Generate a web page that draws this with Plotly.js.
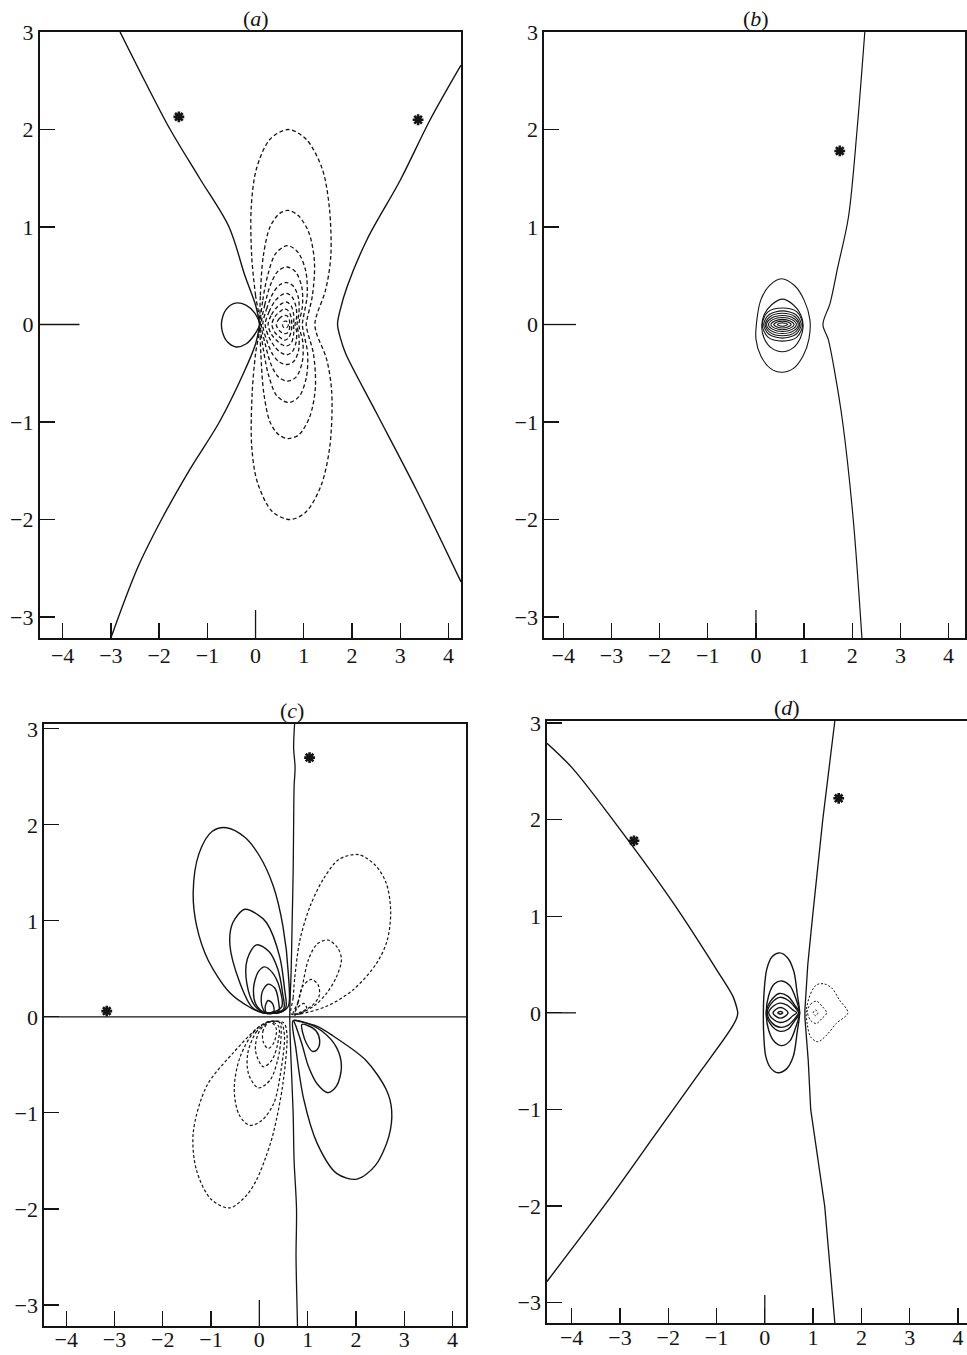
<!DOCTYPE html>
<html>
<head>
<meta charset="utf-8">
<script src="https://cdn.plot.ly/plotly-3.0.1.min.js"></script>
<style>
  html, body { margin: 0; padding: 0; overflow: hidden; background: #fff; }
</style>
</head>
<body>
<div id="fig" style="width:980px;height:1355px"></div>
<script>
// ---------- tick values ----------
const xTickVals = [-4, -3, -2, -1, 0, 1, 2, 3, 4];
const yTickVals = [-3, -2, -1, 0, 1, 2, 3];

// ---------- panel (a) ----------
const aUpperLeft = [[-2.81,3.0],[-2.3,2.5],[-1.77,2.0],[-1.16,1.5],[-0.55,1.0],[-0.22,0.5],[0.0,0.2],[0.08,0.02]];
const aLowerLeft = [[0.08,-0.02],[0.0,-0.2],[-0.25,-0.5],[-0.75,-1.0],[-1.38,-1.5],[-1.95,-2.0],[-2.45,-2.5],[-3.0,-3.215]];
const aRight = [[4.26,2.66],[3.62,2.1],[3.0,1.48],[2.31,0.87],[1.9,0.39],[1.75,0.14],[1.70,0],[1.76,-0.14],[1.87,-0.3],[2.51,-0.91],[3.34,-1.70],[4.26,-2.64]];
const aSmallLoop = [[0.08,0],[-0.02,0.12],[-0.2,0.2],[-0.42,0.22],[-0.6,0.16],[-0.7,0.04],[-0.69,-0.07],[-0.58,-0.18],[-0.4,-0.23],[-0.2,-0.2],[-0.03,-0.11],[0.08,0]];
const aDash1 = [[0.09,0],[0.0,0.3],[-0.08,0.7],[-0.09,1.2],[0.02,1.6],[0.3,1.9],[0.68,2.0],[1.05,1.9],[1.38,1.6],[1.53,1.2],[1.56,0.7],[1.45,0.35],[1.27,0.1],[1.23,0],[1.27,-0.1],[1.47,-0.35],[1.58,-0.7],[1.54,-1.25],[1.36,-1.65],[1.05,-1.92],[0.72,-2.0],[0.35,-1.92],[0.04,-1.62],[-0.08,-1.25],[-0.07,-0.7],[0.0,-0.3],[0.09,0]];
const aDash2 = [[0.09,0],[0.1,0.3],[0.16,0.7],[0.3,1.0],[0.5,1.14],[0.68,1.17],[0.88,1.12],[1.1,0.95],[1.22,0.65],[1.18,0.3],[1.08,0.08],[1.05,0],[1.08,-0.08],[1.2,-0.3],[1.24,-0.65],[1.12,-0.95],[0.9,-1.13],[0.68,-1.17],[0.48,-1.13],[0.3,-1.0],[0.17,-0.7],[0.11,-0.3],[0.09,0]];
const aDash3 = [[0.1,0],[0.15,0.25],[0.26,0.52],[0.42,0.73],[0.66,0.81],[0.88,0.74],[1.04,0.55],[1.07,0.3],[0.99,0.07],[0.97,0],[0.99,-0.07],[1.08,-0.3],[1.05,-0.55],[0.9,-0.74],[0.68,-0.8],[0.44,-0.73],[0.27,-0.52],[0.16,-0.25],[0.1,0]];
const aDash4 = [[0.12,0],[0.19,0.2],[0.32,0.42],[0.47,0.55],[0.65,0.59],[0.83,0.54],[0.96,0.38],[0.97,0.18],[0.91,0.04],[0.9,0],[0.91,-0.04],[0.98,-0.18],[0.97,-0.38],[0.84,-0.54],[0.66,-0.58],[0.48,-0.54],[0.33,-0.42],[0.2,-0.2],[0.12,0]];
const aDash5 = [[0.15,0],[0.23,0.16],[0.36,0.32],[0.51,0.41],[0.65,0.43],[0.79,0.39],[0.89,0.27],[0.9,0.12],[0.86,0],[0.9,-0.12],[0.89,-0.27],[0.79,-0.38],[0.65,-0.41],[0.51,-0.39],[0.36,-0.31],[0.23,-0.16],[0.15,0]];
const aDash6 = [[0.2,0],[0.28,0.13],[0.4,0.24],[0.53,0.3],[0.65,0.32],[0.76,0.28],[0.84,0.18],[0.85,0.07],[0.82,0],[0.85,-0.07],[0.84,-0.18],[0.76,-0.28],[0.65,-0.31],[0.53,-0.29],[0.4,-0.23],[0.28,-0.13],[0.2,0]];
const aDash7 = [[0.26,0],[0.33,0.1],[0.45,0.18],[0.56,0.22],[0.65,0.23],[0.74,0.19],[0.79,0.1],[0.79,0],[0.79,-0.1],[0.74,-0.19],[0.65,-0.22],[0.56,-0.21],[0.45,-0.17],[0.33,-0.1],[0.26,0]];
const aDash8 = [[0.34,0],[0.4,0.08],[0.5,0.13],[0.6,0.16],[0.68,0.14],[0.74,0.07],[0.75,0],[0.74,-0.07],[0.68,-0.14],[0.6,-0.16],[0.5,-0.13],[0.4,-0.08],[0.34,0]];
const aDash9 = [[0.43,0],[0.49,0.06],[0.57,0.09],[0.65,0.09],[0.7,0.05],[0.71,0],[0.7,-0.05],[0.65,-0.09],[0.57,-0.09],[0.49,-0.06],[0.43,0]];
const aDash10 = [[0.56,0],[0.58,0.03],[0.63,0.035],[0.67,0.02],[0.68,0],[0.67,-0.02],[0.63,-0.035],[0.58,-0.03],[0.56,0]];
const aStarsX = [-1.59, 3.37];
const aStarsY = [2.13, 2.10];

// ---------- panel (b) ----------
const bLine = [[2.26,3.0],[2.1,2.0],[1.92,1.1],[1.7,0.59],[1.54,0.22],[1.39,0.0],[1.5,-0.15],[1.64,-0.5],[1.8,-1.0],[2.02,-2.0],[2.2,-3.215]];
const bLoop1 = [[0.53,0.47],[0.8,0.4],[1.0,0.25],[1.12,0.05],[1.1,-0.15],[0.98,-0.32],[0.78,-0.45],[0.53,-0.49],[0.3,-0.45],[0.1,-0.32],[0.0,-0.15],[0.02,0.05],[0.1,0.25],[0.28,0.4],[0.53,0.47]];
const bLoop2 = [[0.55,0.26],[0.78,0.2],[0.93,0.1],[0.98,-0.02],[0.92,-0.14],[0.77,-0.24],[0.55,-0.28],[0.32,-0.24],[0.17,-0.14],[0.12,-0.02],[0.17,0.1],[0.32,0.2],[0.55,0.26]];
const bLoop3 = [[0.13,0],[0.25,0.13],[0.55,0.17],[0.85,0.13],[0.97,0],[0.85,-0.13],[0.55,-0.17],[0.25,-0.13],[0.13,0]];
const bLoop4 = [[0.16,0],[0.27,0.1],[0.55,0.14],[0.83,0.1],[0.94,0],[0.83,-0.1],[0.55,-0.14],[0.27,-0.1],[0.16,0]];
const bLoop5 = [[0.19,0],[0.29,0.08],[0.55,0.115],[0.81,0.08],[0.91,0],[0.81,-0.08],[0.55,-0.115],[0.29,-0.08],[0.19,0]];
const bLoop6 = [[0.22,0],[0.32,0.065],[0.55,0.092],[0.78,0.065],[0.88,0],[0.78,-0.065],[0.55,-0.092],[0.32,-0.065],[0.22,0]];
const bLoop7 = [[0.26,0],[0.35,0.05],[0.55,0.072],[0.75,0.05],[0.84,0],[0.75,-0.05],[0.55,-0.072],[0.35,-0.05],[0.26,0]];
const bLoop8 = [[0.31,0],[0.39,0.037],[0.55,0.053],[0.71,0.037],[0.79,0],[0.71,-0.037],[0.55,-0.053],[0.39,-0.037],[0.31,0]];
const bLoop9 = [[0.37,0],[0.44,0.025],[0.55,0.035],[0.66,0.025],[0.73,0],[0.66,-0.025],[0.55,-0.035],[0.44,-0.025],[0.37,0]];
const bLoop10 = [[0.44,0],[0.49,0.012],[0.55,0.017],[0.61,0.012],[0.66,0],[0.61,-0.012],[0.55,-0.017],[0.49,-0.012],[0.44,0]];
const bStarsX = [1.74];
const bStarsY = [1.78];

// ---------- panel (c) ----------
const cVertical = [[0.73,3.05],[0.71,2.8],[0.74,2.6],[0.72,2.4],[0.71,2.0],[0.7,1.5],[0.68,1.0],[0.66,0.5],[0.63,0.0],[0.66,-0.5],[0.7,-1.0],[0.72,-1.5],[0.77,-2.0],[0.76,-2.5],[0.78,-3.0],[0.79,-3.22]];
const cAxisLine = [[-4.46,0],[4.28,0]];
const cUL1 = [[0.08,0.04],[-0.2,0.1],[-0.61,0.25],[-1.06,0.59],[-1.3,0.95],[-1.37,1.3],[-1.25,1.7],[-0.98,1.93],[-0.68,1.97],[-0.3,1.87],[0.01,1.67],[0.29,1.36],[0.49,0.94],[0.6,0.45],[0.6,0.11],[0.45,0.05],[0.08,0.04]];
const cUL2 = [[0.1,0.04],[-0.15,0.1],[-0.4,0.35],[-0.61,0.75],[-0.55,0.98],[-0.3,1.12],[-0.05,1.07],[0.15,0.98],[0.42,0.63],[0.52,0.3],[0.55,0.1],[0.45,0.05],[0.1,0.04]];
const cUL3 = [[0.12,0.04],[-0.1,0.12],[-0.26,0.35],[-0.25,0.6],[-0.06,0.75],[0.2,0.68],[0.38,0.5],[0.48,0.25],[0.5,0.08],[0.12,0.04]];
const cUL4 = [[0.14,0.04],[-0.06,0.12],[-0.12,0.3],[-0.02,0.47],[0.11,0.52],[0.27,0.46],[0.42,0.3],[0.46,0.1],[0.14,0.04]];
const cUL5 = [[0.15,0.04],[0.05,0.12],[0.06,0.26],[0.18,0.34],[0.32,0.3],[0.4,0.15],[0.4,0.06],[0.15,0.04]];
const cUL6 = [[0.16,0.04],[0.12,0.1],[0.18,0.17],[0.27,0.14],[0.3,0.06],[0.16,0.04]];
const cUR1 = [[0.66,0.03],[0.7,0.2],[0.73,0.39],[0.84,0.8],[1.05,1.15],[1.32,1.43],[1.65,1.64],[2.05,1.69],[2.4,1.58],[2.63,1.39],[2.72,1.1],[2.65,0.8],[2.43,0.56],[1.94,0.28],[1.39,0.11],[0.84,0.03],[0.66,0.03]];
const cUR2 = [[0.7,0.03],[0.8,0.15],[0.88,0.3],[1.02,0.6],[1.2,0.76],[1.42,0.8],[1.62,0.72],[1.7,0.6],[1.6,0.42],[1.4,0.25],[1.15,0.12],[0.9,0.05],[0.7,0.03]];
const cUR3 = [[0.74,0.03],[0.8,0.15],[0.9,0.32],[1.08,0.39],[1.22,0.33],[1.24,0.22],[1.1,0.12],[0.9,0.06],[0.74,0.03]];
const cUR4 = [[0.72,0.02],[0.8,0.1],[0.92,0.14],[0.98,0.09],[0.88,0.04],[0.72,0.02]];
const cLL1 = [[0.2,-0.05],[0.0,-0.1],[-0.55,-0.38],[-1.09,-0.72],[-1.37,-1.21],[-1.3,-1.6],[-1.0,-1.9],[-0.61,-1.99],[-0.25,-1.85],[-0.06,-1.7],[0.12,-1.48],[0.29,-1.21],[0.49,-0.69],[0.57,-0.17],[0.5,-0.06],[0.2,-0.05]];
const cLL2 = [[0.2,-0.05],[-0.1,-0.15],[-0.4,-0.42],[-0.52,-0.75],[-0.42,-1.02],[-0.2,-1.13],[0.05,-1.08],[0.3,-0.9],[0.45,-0.55],[0.52,-0.2],[0.45,-0.06],[0.2,-0.05]];
const cLL3 = [[0.22,-0.05],[-0.05,-0.15],[-0.24,-0.38],[-0.22,-0.6],[-0.02,-0.74],[0.22,-0.66],[0.38,-0.45],[0.45,-0.2],[0.42,-0.06],[0.22,-0.05]];
const cLL4 = [[0.22,-0.05],[0.0,-0.15],[-0.08,-0.35],[0.08,-0.52],[0.26,-0.45],[0.38,-0.28],[0.4,-0.1],[0.22,-0.05]];
const cLL5 = [[0.22,-0.05],[0.08,-0.14],[0.08,-0.26],[0.18,-0.33],[0.3,-0.27],[0.35,-0.12],[0.22,-0.05]];
const cLR1 = [[0.7,-0.04],[0.85,-0.05],[1.2,-0.1],[1.53,-0.2],[2.2,-0.45],[2.63,-0.76],[2.74,-0.97],[2.68,-1.25],[2.4,-1.55],[2.02,-1.69],[1.6,-1.63],[1.2,-1.32],[0.92,-0.86],[0.76,-0.34],[0.7,-0.04]];
const cLR2 = [[0.72,-0.04],[0.95,-0.06],[1.3,-0.15],[1.6,-0.32],[1.7,-0.52],[1.6,-0.72],[1.42,-0.79],[1.2,-0.7],[1.02,-0.52],[0.88,-0.28],[0.76,-0.1],[0.72,-0.04]];
const cLR3 = [[0.88,-0.08],[1.0,-0.09],[1.18,-0.15],[1.25,-0.25],[1.2,-0.34],[1.1,-0.36],[0.98,-0.28],[0.9,-0.17],[0.88,-0.08]];
const cStarsX = [1.04, -3.16];
const cStarsY = [2.7, 0.06];

// ---------- panel (d) ----------
const dLeft = [[-4.51,2.79],[-3.98,2.53],[-2.94,1.86],[-1.9,1.14],[-0.99,0.44],[-0.66,0.17],[-0.57,0.03],[-0.56,0],[-0.58,-0.05],[-0.72,-0.18],[-1.41,-0.66],[-2.24,-1.24],[-3.27,-1.96],[-4.51,-2.78]];
const dRight = [[1.45,3.02],[1.2,2.0],[0.99,1.0],[0.89,0.5],[0.83,0.03],[0.83,-0.05],[0.9,-0.5],[0.95,-1.0],[1.24,-2.0],[1.45,-3.21]];
const dLoop1 = [[-0.03,0],[-0.01,0.25],[0.04,0.45],[0.15,0.58],[0.31,0.62],[0.47,0.57],[0.6,0.43],[0.67,0.2],[0.72,0],[0.67,-0.2],[0.59,-0.45],[0.45,-0.58],[0.27,-0.62],[0.12,-0.57],[0.02,-0.45],[-0.02,-0.25],[-0.03,0]];
const dLoop2 = [[0.03,0],[0.08,0.18],[0.2,0.3],[0.35,0.33],[0.52,0.28],[0.64,0.15],[0.72,0],[0.64,-0.15],[0.52,-0.29],[0.35,-0.34],[0.2,-0.3],[0.08,-0.18],[0.03,0]];
const dLoop3 = [[0.03,0],[0.12,0.12],[0.3,0.2],[0.48,0.17],[0.62,0.08],[0.72,0],[0.62,-0.08],[0.48,-0.17],[0.3,-0.19],[0.12,-0.12],[0.03,0]];
const dLoop4 = [[0.05,0],[0.14,0.1],[0.31,0.16],[0.48,0.13],[0.62,0.06],[0.7,0],[0.62,-0.06],[0.48,-0.13],[0.31,-0.15],[0.14,-0.1],[0.05,0]];
const dLoop5 = [[0.08,0],[0.18,0.07],[0.31,0.1],[0.46,0.08],[0.58,0.03],[0.66,0],[0.58,-0.03],[0.46,-0.08],[0.31,-0.1],[0.18,-0.07],[0.08,0]];
const dLoop6 = [[0.17,0],[0.24,0.04],[0.32,0.055],[0.41,0.04],[0.48,0],[0.41,-0.04],[0.32,-0.055],[0.24,-0.04],[0.17,0]];
const dLoop7 = [[0.27,0],[0.32,0.015],[0.37,0],[0.32,-0.015],[0.27,0]];
const dDash1 = [[0.86,0.03],[0.95,0.2],[1.07,0.29],[1.22,0.3],[1.38,0.26],[1.55,0.13],[1.72,0],[1.48,-0.11],[1.28,-0.23],[1.1,-0.3],[0.95,-0.25],[0.88,-0.12],[0.86,0.03]];
const dDash2 = [[0.88,0.02],[0.95,0.09],[1.07,0.12],[1.2,0.06],[1.28,0],[1.18,-0.06],[1.07,-0.11],[0.95,-0.08],[0.88,0.02]];
const dDash3 = [[1.0,0],[1.05,0.03],[1.1,0],[1.05,-0.03],[1.0,0]];
const dStarsX = [-2.71, 1.53];
const dStarsY = [1.78, 2.22];

// ---------- drawing ----------
const INK = '#141414';
const FONT = 'Liberation Serif, Times New Roman, serif';
const W = 980, H = 1355;

function curve(pts, n, dash, width, shape) {
  const s = n === 1 ? '' : String(n);
  return {
    type: 'scatter', mode: 'lines',
    x: pts.map(p => p[0]), y: pts.map(p => p[1]),
    xaxis: 'x' + s, yaxis: 'y' + s,
    line: { color: INK, width: width || 1.4, dash: dash || 'solid', shape: shape || 'spline', smoothing: 0.9 },
    hoverinfo: 'skip', showlegend: false
  };
}
function stars(xs, ys, n) {
  const s = n === 1 ? '' : String(n);
  return {
    type: 'scatter', mode: 'markers', x: xs, y: ys, xaxis: 'x' + s, yaxis: 'y' + s,
    marker: { symbol: 'asterisk-open', size: 9, color: INK, line: { color: INK, width: 2.6 } },
    hoverinfo: 'skip', showlegend: false
  };
}

const DA = '4px,2.6px';   // dashes of panel (a)
const DC = '3px,2.2px';   // dashes of panel (c)
const DD = '2px,1.8px';   // fine dots of panel (d)

const traces = [
  curve(aUpperLeft, 1), curve(aLowerLeft, 1), curve(aRight, 1), curve(aSmallLoop, 1),
  curve(aDash1, 1, DA, 1.3), curve(aDash2, 1, DA, 1.3), curve(aDash3, 1, DA, 1.3),
  curve(aDash4, 1, DA, 1.3), curve(aDash5, 1, DA, 1.3), curve(aDash6, 1, DA, 1.3),
  curve(aDash7, 1, DA, 1.3), curve(aDash8, 1, DA, 1.3), curve(aDash9, 1, DA, 1.3),
  curve(aDash10, 1, DA, 1.1),
  stars(aStarsX, aStarsY, 1),

  curve(bLine, 2, null, 1.2), curve(bLoop1, 2, null, 1.1), curve(bLoop2, 2, null, 1.1),
  curve(bLoop3, 2, null, 1.1), curve(bLoop4, 2, null, 1.1), curve(bLoop5, 2, null, 1.1),
  curve(bLoop6, 2, null, 1.1), curve(bLoop7, 2, null, 1.1), curve(bLoop8, 2, null, 1.1),
  curve(bLoop9, 2, null, 1.1), curve(bLoop10, 2, null, 1.1),
  stars(bStarsX, bStarsY, 2),

  curve(cVertical, 3, null, 1.3), curve(cAxisLine, 3, null, 1.1, 'linear'),
  curve(cUL1, 3), curve(cUL2, 3), curve(cUL3, 3), curve(cUL4, 3), curve(cUL5, 3), curve(cUL6, 3),
  curve(cUR1, 3, DC, 1.2), curve(cUR2, 3, DC, 1.2), curve(cUR3, 3, DC, 1.2), curve(cUR4, 3, DC, 1.2),
  curve(cLL1, 3, DC, 1.2), curve(cLL2, 3, DC, 1.2), curve(cLL3, 3, DC, 1.2), curve(cLL4, 3, DC, 1.2), curve(cLL5, 3, DC, 1.2),
  curve(cLR1, 3), curve(cLR2, 3), curve(cLR3, 3),
  stars(cStarsX, cStarsY, 3),

  curve(dLeft, 4, null, 1.4), curve(dRight, 4, null, 1.3, 'linear'),
  curve(dLoop1, 4), curve(dLoop2, 4), curve(dLoop3, 4), curve(dLoop4, 4),
  curve(dLoop5, 4), curve(dLoop6, 4), curve(dLoop7, 4),
  curve(dDash1, 4, DD, 1.0), curve(dDash2, 4, DD, 1.0), curve(dDash3, 4, DD, 1.0),
  stars(dStarsX, dStarsY, 4)
];

// panel frames in pixels: left, right, top, bottom; sx = x tick-label standoff
const boxes = [
  { l: 39.5, r: 461, t: 32, b: 638, xr: [-4.48, 4.26], yr: [-3.215, 3.0], sx: -3 },
  { l: 544, r: 965, t: 32, b: 638, xr: [-4.40, 4.34], yr: [-3.215, 3.0], sx: -3 },
  { l: 44, r: 466, t: 724, b: 1326, xr: [-4.46, 4.28], yr: [-3.22, 3.05], sx: -7 },
  { l: 547, r: 972, t: 721, b: 1323, xr: [-4.51, 4.29], yr: [-3.21, 3.02], sx: -6 }
];

const layout = {
  width: W, height: H,
  margin: { l: 0, r: 0, t: 0, b: 0 },
  paper_bgcolor: '#fff', plot_bgcolor: '#fff',
  showlegend: false,
  font: { family: FONT, color: INK, size: 22 },
  annotations: [], shapes: []
};

boxes.forEach((bx, i) => {
  const s = i === 0 ? '' : String(i + 1);
  const common = {
    showgrid: false, zeroline: false, showline: true, mirror: true,
    linecolor: INK, linewidth: 1.6,
    ticks: 'inside', ticklen: 15, tickwidth: 1.3, tickcolor: INK,
    tickfont: { family: FONT, size: 22, color: INK },
    fixedrange: true
  };
  layout['xaxis' + s] = Object.assign({}, common, {
    domain: [bx.l / W, bx.r / W], range: bx.xr, anchor: 'y' + s,
    tickvals: xTickVals, ticklabelstandoff: bx.sx
  });
  layout['yaxis' + s] = Object.assign({}, common, {
    domain: [1 - bx.b / H, 1 - bx.t / H], range: bx.yr, anchor: 'x' + s,
    tickvals: yTickVals, ticklabelstandoff: 0
  });
});

// longer zero ticks
const zeroTicks = [
  { n: '', yLen: 40 / 421.5, xLen: 28 / 606 },
  { n: '2', yLen: 32 / 421, xLen: 28 / 606 },
  { n: '3', yLen: 0, xLen: 26 / 602 },
  { n: '4', yLen: 29 / 425, xLen: 28 / 602 }
];
zeroTicks.forEach(z => {
  layout.shapes.push({ type: 'line', xref: 'x' + z.n, yref: 'y' + z.n + ' domain',
    x0: 0, x1: 0, y0: 0, y1: z.xLen, line: { color: INK, width: 1.3 } });
  if (z.yLen > 0) {
    layout.shapes.push({ type: 'line', xref: 'x' + z.n + ' domain', yref: 'y' + z.n,
      x0: 0, x1: z.yLen, y0: 0, y1: 0, line: { color: INK, width: 1.3 } });
  }
});

// panel letters
const letters = [
  { n: '', x: 0.0, t: '(<i>a</i>)' },
  { n: '2', x: 0.0, t: '(<i>b</i>)' },
  { n: '3', x: 0.67, t: '(<i>c</i>)' },
  { n: '4', x: 0.46, t: '(<i>d</i>)' }
];
letters.forEach(L => {
  layout.annotations.push({
    xref: 'x' + L.n, yref: 'y' + L.n + ' domain', x: L.x, y: 1,
    xanchor: 'center', yanchor: 'bottom', yshift: -1, showarrow: false,
    text: L.t, font: { family: FONT, size: 22, color: INK }
  });
});

Plotly.newPlot('fig', traces, layout, { staticPlot: true, displayModeBar: false });
</script>
</body>
</html>
